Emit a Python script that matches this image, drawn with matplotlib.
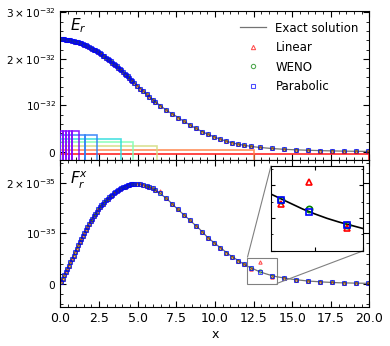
import numpy as np
import matplotlib
matplotlib.use('Agg')
import matplotlib.pyplot as plt
import matplotlib.transforms as mtransforms
from matplotlib.patches import Rectangle
from matplotlib.ticker import MultipleLocator
from mpl_toolkits.axes_grid1.inset_locator import mark_inset

# exact solution
x_exact = [0, 0.5, 1, 1.5, 2, 2.5, 3, 3.5, 4, 4.5, 5, 5.5, 6, 6.5, 7, 7.5, 8, 8.5, 9, 9.5,
           10, 10.5, 11, 11.5, 12, 12.25, 12.5, 12.75, 13, 13.25, 13.5, 13.75, 14, 14.5, 15,
           16, 17, 18, 19, 20]
E_exact = [2.42, 2.41, 2.37, 2.31, 2.23, 2.13, 2.01, 1.88, 1.73, 1.57, 1.41, 1.26, 1.11, 0.98,
           0.86, 0.76, 0.65, 0.55, 0.46, 0.38, 0.31, 0.25, 0.20, 0.16, 0.13, 0.118, 0.105,
           0.096, 0.088, 0.080, 0.073, 0.066, 0.06, 0.05, 0.042, 0.03, 0.02, 0.013, 0.008, 0.005]
F_exact = [0, 0.33, 0.66, 0.98, 1.27, 1.50, 1.68, 1.81, 1.91, 1.98, 1.99, 1.96, 1.89, 1.79,
           1.66, 1.51, 1.37, 1.23, 1.09, 0.93, 0.80, 0.68, 0.56, 0.46, 0.36, 0.325, 0.29,
           0.255, 0.225, 0.198, 0.175, 0.155, 0.135, 0.11, 0.085, 0.05, 0.03, 0.015, 0.008, 0.003]

# cell centres of the numerical solution
x_num = [0.05, 0.15, 0.25, 0.35, 0.45, 0.55, 0.65, 0.75, 0.85, 0.95, 1.05, 1.15, 1.25, 1.35,
         1.45, 1.55, 1.65, 1.75, 1.85, 1.95, 2.05, 2.15, 2.25, 2.35, 2.45, 2.55, 2.65, 2.75,
         2.85, 2.95, 3.05, 3.15, 3.25, 3.35, 3.45, 3.55, 3.65, 3.75, 3.85, 3.95, 4.05, 4.15,
         4.25, 4.35, 4.45, 4.55, 4.65,
         4.79, 4.98, 5.18, 5.37, 5.57, 5.76, 5.96, 6.15,
         6.45, 6.84, 7.23, 7.62, 8.01, 8.40, 8.79, 9.18, 9.57, 9.96, 10.35, 10.74, 11.13,
         11.52, 11.91, 12.30, 12.89, 13.67, 14.45, 15.23, 16.02, 16.80, 17.58, 18.36,
         19.14, 19.92]
E_num = [2.42, 2.42, 2.42, 2.41, 2.41, 2.41, 2.40, 2.39, 2.38, 2.37, 2.37, 2.36, 2.34, 2.33,
         2.32, 2.30, 2.29, 2.27, 2.25, 2.24, 2.22, 2.20, 2.18, 2.16, 2.14, 2.12, 2.10, 2.07,
         2.05, 2.02, 2.00, 1.97, 1.95, 1.92, 1.89, 1.87, 1.84, 1.81, 1.78, 1.75, 1.71, 1.68,
         1.65, 1.62, 1.59, 1.55, 1.52,
         1.48, 1.42, 1.36, 1.30, 1.24, 1.18, 1.12, 1.07,
         0.99, 0.90, 0.81, 0.73, 0.65, 0.57, 0.50, 0.43, 0.37, 0.32, 0.27, 0.23, 0.19, 0.16,
         0.135, 0.115, 0.092, 0.069, 0.051, 0.039, 0.030, 0.022, 0.016, 0.011, 0.008, 0.005]
F_num = [0.03, 0.10, 0.17, 0.23, 0.30, 0.36, 0.43, 0.50, 0.56, 0.63, 0.69, 0.76, 0.82, 0.88,
         0.95, 1.01, 1.07, 1.13, 1.18, 1.24, 1.29, 1.34, 1.39, 1.43, 1.48, 1.52, 1.56, 1.59,
         1.63, 1.66, 1.69, 1.72, 1.75, 1.77, 1.80, 1.82, 1.84, 1.86, 1.88, 1.90, 1.92, 1.93,
         1.95, 1.96, 1.97, 1.98, 1.985,
         1.99, 1.99, 1.985, 1.975, 1.955, 1.93, 1.90, 1.86,
         1.80, 1.70, 1.59, 1.48, 1.37, 1.26, 1.15, 1.03, 0.91, 0.81, 0.71, 0.62, 0.53,
         0.45, 0.385, 0.31, 0.237, 0.158, 0.112, 0.078, 0.05, 0.034, 0.021, 0.013, 0.007, 0.003]
# where the schemes differ from the parabolic one (x : F)
F_linear_diff = {6.45: 1.84, 12.30: 0.288, 12.89: 0.422, 13.67: 0.137}
F_weno_diff = {12.89: 0.253}

# refinement patches: left edge, right edge, level
patch_lo = [0, 0, 0, 0, 0, 0, 1.5625, 0, 0.18, 0.36, 0.57, 0.73]
patch_hi = [20, 12.5, 6.25, 4.6875, 3.90625, 1.5625, 2.34375, 0.18, 0.36, 0.57, 0.73, 1.17]
patch_level = [0, 1, 2, 3, 4, 5, 5, 6, 6, 6, 6, 6]

E_scale = 1e-32
F_scale = 1e-35

x_num = np.array(x_num)
E_num = np.array(E_num) * E_scale
F_par = np.array(F_num) * F_scale
F_lin = F_par.copy()
F_wen = F_par.copy()
for xv, fv in F_linear_diff.items():
    F_lin[np.argmin(abs(x_num - xv))] = fv * F_scale
for xv, fv in F_weno_diff.items():
    F_wen[np.argmin(abs(x_num - xv))] = fv * F_scale
E_ex = np.array(E_exact) * E_scale
F_ex = np.array(F_exact) * F_scale

plt.rcParams['font.family'] = ['DejaVu Sans']
plt.rcParams['font.size'] = 9

fig = plt.figure(figsize=(3.9, 3.46), dpi=100)
ax1 = fig.add_axes([0.155, 0.5376, 0.7924, 0.4306])
ax2 = fig.add_axes([0.155, 0.1127, 0.7924, 0.4249], sharex=ax1)

mk = dict(ls='none', mfc='none', ms=2.4, mew=0.75, alpha=0.7)

# top panel: E_r
ax1.plot(x_exact, E_ex, color='0.45', lw=0.9, label='Exact solution')
ax1.plot(x_num, E_num, marker='^', color='r', label='Linear', **mk)
ax1.plot(x_num, E_num, marker='o', color='g', label='WENO', **mk)
ax1.plot(x_num, E_num, marker='s', color='b', label='Parabolic', **mk)

trans = mtransforms.blended_transform_factory(ax1.transData, ax1.transAxes)
for lo, hi, lev in zip(patch_lo, patch_hi, patch_level):
    h = 0.04 + 0.026 * lev
    ax1.add_patch(Rectangle((lo, -0.1), hi - lo, h + 0.1, transform=trans, fill=False,
                            ec=plt.cm.rainbow(1 - lev / 6), lw=1.2, alpha=0.85, zorder=3))

ax1.set_ylim(-0.18e-32, 3.03e-32)
ax1.set_yticks([0, 1e-32, 2e-32, 3e-32])
ax1.set_yticklabels([r'$0$', r'$10^{-32}$', r'$2\times10^{-32}$', r'$3\times10^{-32}$'])
ax1.yaxis.set_minor_locator(MultipleLocator(0.2e-32))
ax1.text(0.03, 0.9, r'$E_r$', transform=ax1.transAxes, fontsize=11, va='center')
leg = ax1.legend(loc='upper right', frameon=False, fontsize=8.5, numpoints=1,
                 handlelength=2.2, labelspacing=0.55, markerscale=1.3)

# bottom panel: F_r^x
ax2.plot(x_exact, F_ex, color='0.45', lw=0.9)
ax2.plot(x_num, F_lin, marker='^', color='r', **mk)
ax2.plot(x_num, F_wen, marker='o', color='g', **mk)
ax2.plot(x_num, F_par, marker='s', color='b', **mk)
ax2.set_ylim(-0.47e-35, 2.47e-35)
ax2.set_yticks([0, 1e-35, 2e-35])
ax2.set_yticklabels([r'$0$', r'$10^{-35}$', r'$2\times10^{-35}$'])
ax2.yaxis.set_minor_locator(MultipleLocator(0.2e-35))
ax2.text(0.03, 0.86, r'$F_r^x$', transform=ax2.transAxes, fontsize=11, va='center')
ax2.set_xlim(0, 20)
ax2.xaxis.set_major_locator(MultipleLocator(2.5))
ax2.xaxis.set_minor_locator(MultipleLocator(0.5))
ax2.set_xlabel('x', labelpad=2)

for ax in (ax1, ax2):
    ax.tick_params(which='both', direction='in', top=True, right=True)
    ax.tick_params(which='major', length=4)
    ax.tick_params(which='minor', length=2)
    ax.tick_params(axis='y', labelsize=7.6, pad=3)
ax1.tick_params(labelbottom=False)

# zoom inset
axins = fig.add_axes([0.695, 0.2754, 0.237, 0.2457])
axins.plot(x_exact, F_ex, color='k', lw=1.2)
mk2 = dict(ls='none', mfc='none', ms=4.5, mew=1.2)
axins.plot(x_num, F_lin, marker='^', color='r', **mk2)
axins.plot(x_num, F_wen, marker='o', color='g', **mk2)
axins.plot(x_num, F_par, marker='s', color='b', **mk2)
axins.set_xlim(12.1, 14.0)
axins.set_ylim(0, 0.52e-35)
axins.xaxis.set_major_locator(MultipleLocator(1))
axins.yaxis.set_major_locator(MultipleLocator(0.2e-35))
axins.yaxis.set_minor_locator(MultipleLocator(0.1e-35))
axins.tick_params(which='both', direction='in', top=True, right=True,
                  labelbottom=False, labelleft=False)
axins.tick_params(which='major', length=3)
axins.tick_params(which='minor', length=1.5)
mark_inset(ax2, axins, loc1=2, loc2=4, fc='none', ec='0.5', lw=0.8)

fig.savefig('out.png', dpi=100)
